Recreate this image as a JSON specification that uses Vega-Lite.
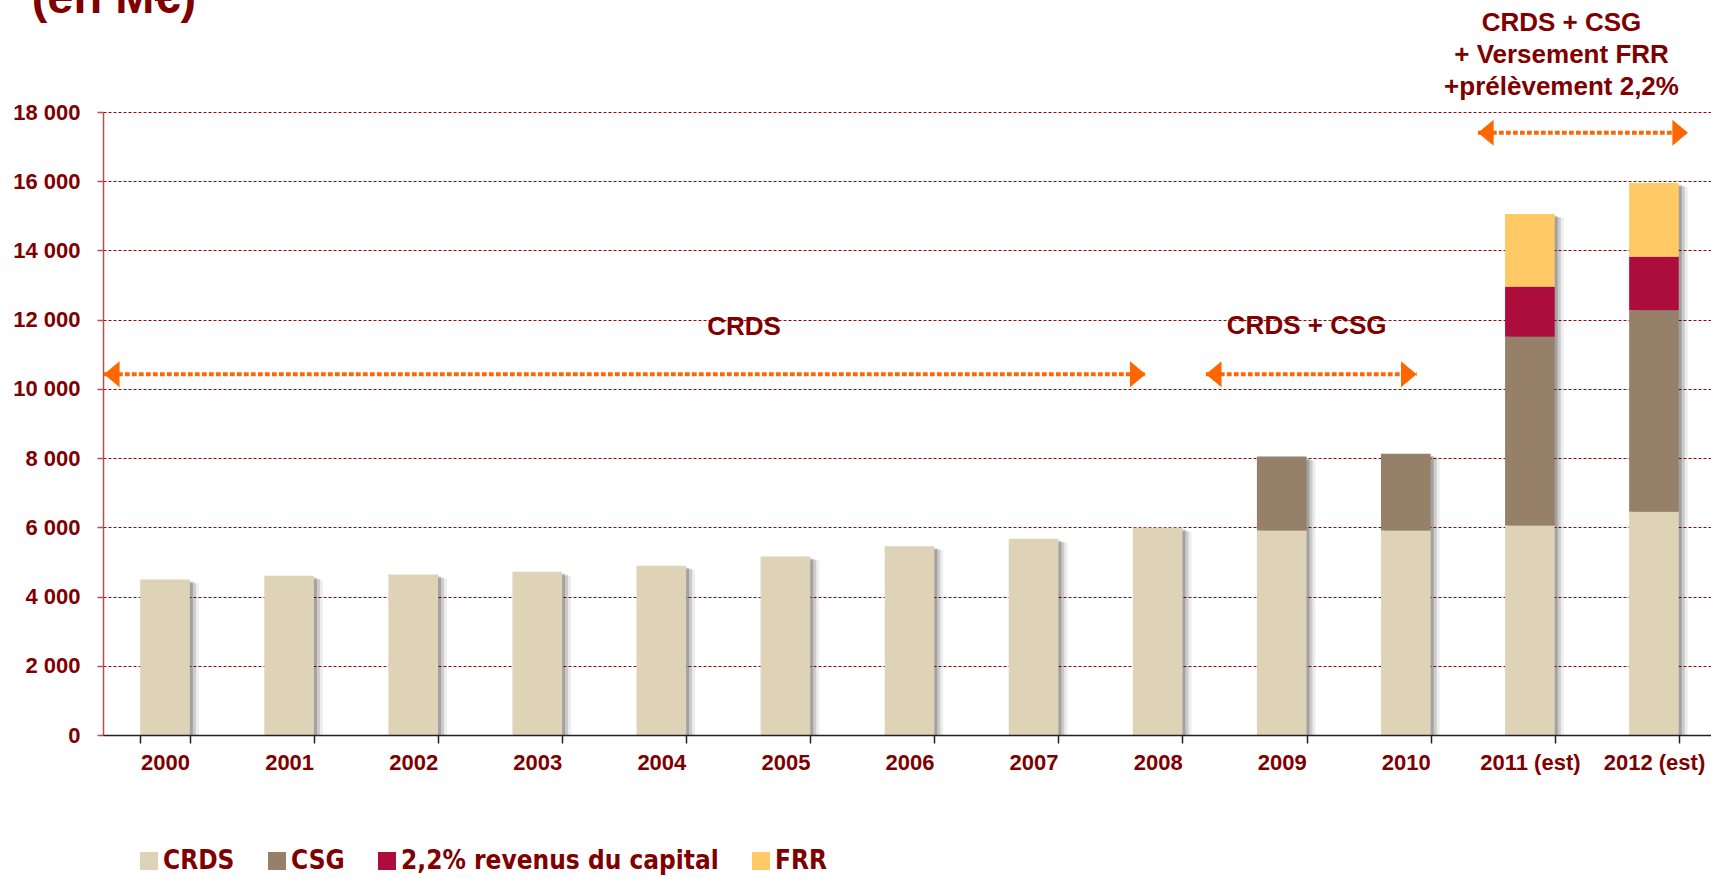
{
  "$schema": "https://vega.github.io/schema/vega-lite/v6.json",
  "width": 1613,
  "height": 623,
  "autosize": {"type": "none"},
  "padding": {"left": 103, "top": 112, "right": 0, "bottom": 143},
  "background": "white",
  "config": {"view": {"stroke": null}, "font": "Liberation Sans"},
  "datasets": {
    "bars": [
      {"year": "2000", "series": "CRDS", "value": 4490, "ord": 1},
      {"year": "2001", "series": "CRDS", "value": 4600, "ord": 1},
      {"year": "2002", "series": "CRDS", "value": 4640, "ord": 1},
      {"year": "2003", "series": "CRDS", "value": 4720, "ord": 1},
      {"year": "2004", "series": "CRDS", "value": 4890, "ord": 1},
      {"year": "2005", "series": "CRDS", "value": 5160, "ord": 1},
      {"year": "2006", "series": "CRDS", "value": 5450, "ord": 1},
      {"year": "2007", "series": "CRDS", "value": 5670, "ord": 1},
      {"year": "2008", "series": "CRDS", "value": 5990, "ord": 1},
      {"year": "2009", "series": "CRDS", "value": 5910, "ord": 1},
      {"year": "2009", "series": "CSG", "value": 2140, "ord": 2},
      {"year": "2010", "series": "CRDS", "value": 5910, "ord": 1},
      {"year": "2010", "series": "CSG", "value": 2215, "ord": 2},
      {"year": "2011 (est)", "series": "CRDS", "value": 6050, "ord": 1},
      {"year": "2011 (est)", "series": "CSG", "value": 5460, "ord": 2},
      {"year": "2011 (est)", "series": "2,2% revenus du capital", "value": 1440, "ord": 3},
      {"year": "2011 (est)", "series": "FRR", "value": 2100, "ord": 4},
      {"year": "2012 (est)", "series": "CRDS", "value": 6450, "ord": 1},
      {"year": "2012 (est)", "series": "CSG", "value": 5820, "ord": 2},
      {"year": "2012 (est)", "series": "2,2% revenus du capital", "value": 1550, "ord": 3},
      {"year": "2012 (est)", "series": "FRR", "value": 2130, "ord": 4}
    ],
    "arrows": [
      {"x1": 0.008, "x2": 8.403, "v": 10421},
      {"x1": 8.889, "x2": 10.587, "v": 10421},
      {"x1": 11.082, "x2": 12.774, "v": 17402}
    ],
    "labels": [
      {"u": 5.166, "v": 11788, "t": "CRDS"},
      {"u": 9.701, "v": 11817, "t": "CRDS + CSG"},
      {"u": 11.755, "v": 20571, "t": "CRDS + CSG"},
      {"u": 11.755, "v": 19647, "t": "+ Versement FRR"},
      {"u": 11.755, "v": 18722, "t": "+prélèvement 2,2%"}
    ],
    "title": [
      {"u": -0.5746, "v": 20860, "t": "(en M€)"}
    ]
  },
  "layer": [
    {
      "data": {"name": "bars"},
      "encoding": {
        "x": {
          "field": "year",
          "type": "nominal",
          "scale": {
            "domain": ["2000", "2001", "2002", "2003", "2004", "2005", "2006", "2007", "2008", "2009", "2010", "2011 (est)", "2012 (est)"],
            "paddingInner": 0.6,
            "paddingOuter": 0.3
          },
          "axis": {
            "title": null,
            "tickBand": "extent",
            "labelAngle": 0,
            "domainColor": "#222222",
            "domainWidth": 1.5,
            "tickColor": "#222222",
            "tickWidth": 1.5,
            "tickSize": 8,
            "labelFont": "Liberation Sans",
            "labelFontWeight": "bold",
            "labelFontSize": 22,
            "labelColor": "#800000",
            "labelPadding": 9,
            "grid": false,
            "zindex": 1
          }
        },
        "y": {
          "field": "value",
          "type": "quantitative",
          "scale": {"domain": [0, 18000], "nice": false},
          "axis": {
            "title": null,
            "values": [0, 2000, 4000, 6000, 8000, 10000, 12000, 14000, 16000, 18000],
            "labelExpr": "datum.value == 0 ? '0' : (datum.value / 1000) + ' 000'",
            "domainColor": "#B05050",
            "domainWidth": 1.5,
            "tickColor": "#B05050",
            "tickWidth": 1.5,
            "tickSize": 6,
            "labelFont": "Liberation Sans",
            "labelFontWeight": "bold",
            "labelFontSize": 22,
            "labelColor": "#800000",
            "labelPadding": 17,
            "grid": true,
            "gridColor": "#8B0000",
            "gridWidth": 1.2,
            "gridDash": [3, 2],
            "gridOpacity": 0.95
          }
        }
      },
      "layer": [
        {
          "mark": {"type": "bar", "color": "#000000", "opacity": 0.2, "xOffset": 3, "yOffset": 2},
          "encoding": {
            "y": {"aggregate": "sum", "field": "value", "type": "quantitative"}
          }
        },
        {
          "mark": {"type": "bar", "color": "#000000", "opacity": 0.14, "xOffset": 6, "yOffset": 3},
          "encoding": {
            "y": {"aggregate": "sum", "field": "value", "type": "quantitative"}
          }
        },
        {
          "mark": {"type": "bar", "color": "#000000", "opacity": 0.07, "xOffset": 9, "yOffset": 4},
          "encoding": {
            "y": {"aggregate": "sum", "field": "value", "type": "quantitative"}
          }
        },
        {
          "mark": {"type": "bar"},
          "encoding": {
            "y": {"field": "value", "type": "quantitative", "stack": "zero"},
            "order": {"field": "ord", "type": "quantitative"},
            "color": {
              "field": "series",
              "type": "nominal",
              "scale": {
                "domain": ["CRDS", "CSG", "2,2% revenus du capital", "FRR"],
                "range": ["#DED2B7", "#968069", "#AD0D3D", "#FFC966"]
              },
              "legend": {
                "orient": "none",
                "legendX": 33,
                "legendY": 736,
                "direction": "horizontal",
                "columns": 4,
                "title": null,
                "padding": 0,
                "symbolType": "square",
                "symbolSize": 324,
                "symbolStrokeWidth": 0,
                "symbolOpacity": 1,
                "labelFont": "DejaVu Sans Condensed, Liberation Sans, sans-serif",
                "labelFontWeight": "bold",
                "labelFontSize": 26,
                "labelColor": "#800000",
                "labelOffset": 1,
                "labelLimit": 500,
                "columnPadding": 29
              }
            }
          }
        }
      ]
    },
    {
      "layer": [
        {
          "data": {"name": "arrows"},
          "mark": {"type": "rule", "color": "#FF6600", "strokeWidth": 4, "strokeDash": [4.7, 2.3]},
          "encoding": {
            "x": {"field": "x1", "type": "quantitative", "scale": {"domain": [0, 13], "nice": false, "zero": false}, "axis": null},
            "x2": {"field": "x2"},
            "y": {"field": "v", "type": "quantitative", "scale": {"domain": [0, 18000], "nice": false}, "axis": null}
          }
        },
        {
          "data": {"name": "arrows"},
          "mark": {"type": "point", "shape": "M0,0L1.2,-1L1.2,1Z", "filled": true, "color": "#FF6600", "opacity": 1, "size": 676, "strokeWidth": 0},
          "encoding": {
            "x": {"field": "x1", "type": "quantitative", "axis": null},
            "y": {"field": "v", "type": "quantitative", "axis": null}
          }
        },
        {
          "data": {"name": "arrows"},
          "mark": {"type": "point", "shape": "M0,0L-1.2,-1L-1.2,1Z", "filled": true, "color": "#FF6600", "opacity": 1, "size": 676, "strokeWidth": 0},
          "encoding": {
            "x": {"field": "x2", "type": "quantitative", "axis": null},
            "y": {"field": "v", "type": "quantitative", "axis": null}
          }
        },
        {
          "data": {"name": "labels"},
          "mark": {"type": "text", "font": "Liberation Sans", "fontWeight": "bold", "fontSize": 26, "color": "#800000", "align": "center", "baseline": "middle"},
          "encoding": {
            "x": {"field": "u", "type": "quantitative", "axis": null},
            "y": {"field": "v", "type": "quantitative", "axis": null},
            "text": {"field": "t"}
          }
        },
        {
          "data": {"name": "title"},
          "mark": {"type": "text", "font": "Liberation Sans", "fontWeight": "bold", "fontSize": 47, "color": "#800000", "align": "left", "baseline": "alphabetic"},
          "encoding": {
            "x": {"field": "u", "type": "quantitative", "axis": null},
            "y": {"field": "v", "type": "quantitative", "axis": null},
            "text": {"field": "t"}
          }
        }
      ]
    }
  ],
  "resolve": {"scale": {"x": "independent", "y": "independent"}}
}
